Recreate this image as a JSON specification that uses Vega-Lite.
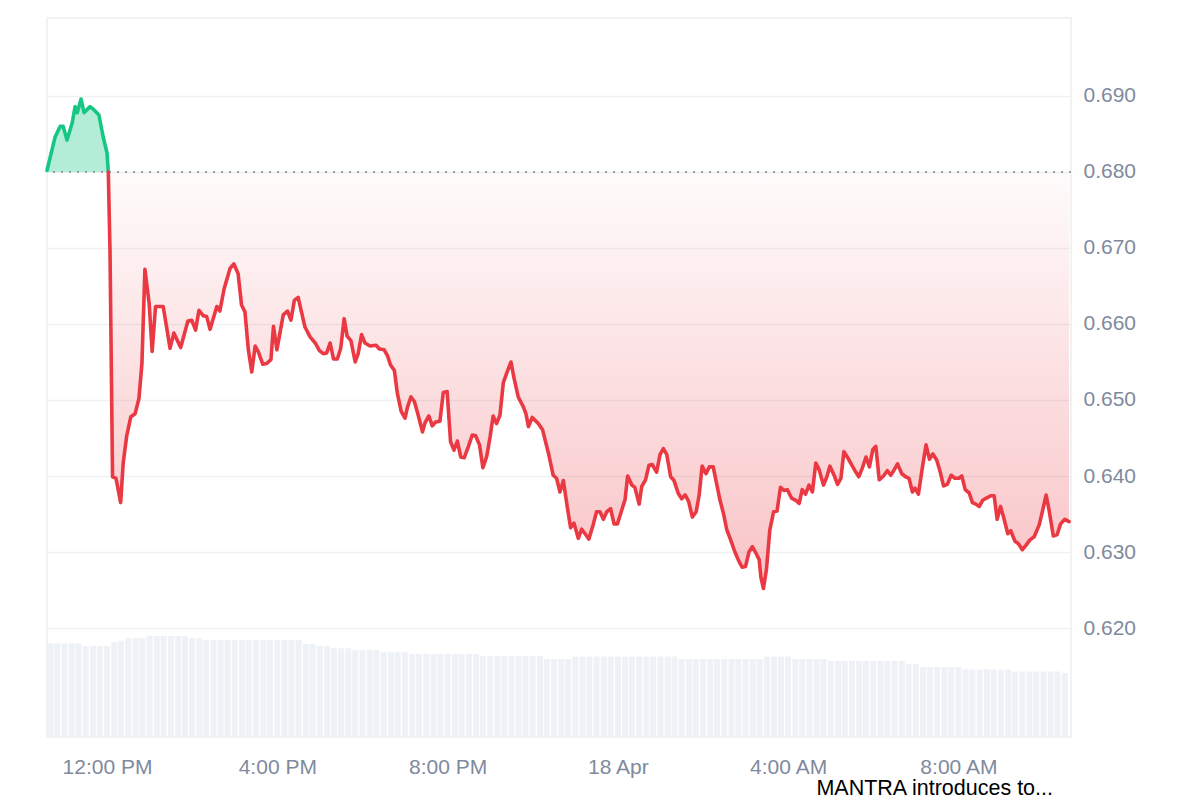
{
  "$schema": "https://vega.github.io/schema/vega-lite/v6.json",
  "width": 1024,
  "height": 719,
  "autosize": {"type": "none"},
  "padding": {"left": 47, "top": 18, "right": 129, "bottom": 63},
  "background": "#ffffff",
  "config": {
    "view": {"stroke": "#eceef1", "strokeWidth": 1.5},
    "font": "Liberation Sans"
  },
  "title": {
    "text": "MANTRA introduces to...",
    "orient": "bottom",
    "anchor": "end",
    "frame": "group",
    "fontSize": 21.5,
    "fontWeight": "normal",
    "color": "#000000",
    "font": "Liberation Sans",
    "dx": -18,
    "offset": 1
  },
  "datasets": {
    "price": [
      {"h": -1.41, "p": 0.6802, "s": "up"},
      {"h": -1.22, "p": 0.6846, "s": "up"},
      {"h": -1.10, "p": 0.6860, "s": "up"},
      {"h": -1.03, "p": 0.6860, "s": "up"},
      {"h": -0.94, "p": 0.6842, "s": "up"},
      {"h": -0.82, "p": 0.6864, "s": "up"},
      {"h": -0.75, "p": 0.6886, "s": "up"},
      {"h": -0.70, "p": 0.6878, "s": "up"},
      {"h": -0.61, "p": 0.6896, "s": "up"},
      {"h": -0.54, "p": 0.6878, "s": "up"},
      {"h": -0.40, "p": 0.6886, "s": "up"},
      {"h": -0.31, "p": 0.6882, "s": "up"},
      {"h": -0.19, "p": 0.6875, "s": "up"},
      {"h": -0.09, "p": 0.6846, "s": "up"},
      {"h": 0.00, "p": 0.6825, "s": "up"},
      {"h": 0.03, "p": 0.6800, "s": "up"},
      {"h": 0.03, "p": 0.6800, "s": "down"},
      {"h": 0.07, "p": 0.6697, "s": "down"},
      {"h": 0.13, "p": 0.6399, "s": "down"},
      {"h": 0.21, "p": 0.6397, "s": "down"},
      {"h": 0.32, "p": 0.6365, "s": "down"},
      {"h": 0.38, "p": 0.6417, "s": "down"},
      {"h": 0.46, "p": 0.6452, "s": "down"},
      {"h": 0.56, "p": 0.6478, "s": "down"},
      {"h": 0.66, "p": 0.6482, "s": "down"},
      {"h": 0.75, "p": 0.6502, "s": "down"},
      {"h": 0.82, "p": 0.6548, "s": "down"},
      {"h": 0.89, "p": 0.6672, "s": "down"},
      {"h": 0.99, "p": 0.6627, "s": "down"},
      {"h": 1.06, "p": 0.6564, "s": "down"},
      {"h": 1.14, "p": 0.6623, "s": "down"},
      {"h": 1.32, "p": 0.6623, "s": "down"},
      {"h": 1.48, "p": 0.6568, "s": "down"},
      {"h": 1.57, "p": 0.6588, "s": "down"},
      {"h": 1.73, "p": 0.6569, "s": "down"},
      {"h": 1.90, "p": 0.6604, "s": "down"},
      {"h": 1.99, "p": 0.6605, "s": "down"},
      {"h": 2.08, "p": 0.6592, "s": "down"},
      {"h": 2.16, "p": 0.6618, "s": "down"},
      {"h": 2.26, "p": 0.6611, "s": "down"},
      {"h": 2.34, "p": 0.6610, "s": "down"},
      {"h": 2.42, "p": 0.6593, "s": "down"},
      {"h": 2.58, "p": 0.6623, "s": "down"},
      {"h": 2.65, "p": 0.6617, "s": "down"},
      {"h": 2.75, "p": 0.6646, "s": "down"},
      {"h": 2.89, "p": 0.6673, "s": "down"},
      {"h": 2.98, "p": 0.6679, "s": "down"},
      {"h": 3.08, "p": 0.6666, "s": "down"},
      {"h": 3.16, "p": 0.6625, "s": "down"},
      {"h": 3.24, "p": 0.6616, "s": "down"},
      {"h": 3.32, "p": 0.6566, "s": "down"},
      {"h": 3.40, "p": 0.6537, "s": "down"},
      {"h": 3.48, "p": 0.6571, "s": "down"},
      {"h": 3.55, "p": 0.6564, "s": "down"},
      {"h": 3.66, "p": 0.6547, "s": "down"},
      {"h": 3.75, "p": 0.6548, "s": "down"},
      {"h": 3.85, "p": 0.6553, "s": "down"},
      {"h": 3.91, "p": 0.6597, "s": "down"},
      {"h": 3.99, "p": 0.6566, "s": "down"},
      {"h": 4.14, "p": 0.6612, "s": "down"},
      {"h": 4.24, "p": 0.6617, "s": "down"},
      {"h": 4.32, "p": 0.6605, "s": "down"},
      {"h": 4.40, "p": 0.6631, "s": "down"},
      {"h": 4.49, "p": 0.6635, "s": "down"},
      {"h": 4.65, "p": 0.6596, "s": "down"},
      {"h": 4.77, "p": 0.6583, "s": "down"},
      {"h": 4.89, "p": 0.6575, "s": "down"},
      {"h": 4.99, "p": 0.6565, "s": "down"},
      {"h": 5.08, "p": 0.6561, "s": "down"},
      {"h": 5.16, "p": 0.6562, "s": "down"},
      {"h": 5.24, "p": 0.6575, "s": "down"},
      {"h": 5.32, "p": 0.6554, "s": "down"},
      {"h": 5.41, "p": 0.6554, "s": "down"},
      {"h": 5.49, "p": 0.6568, "s": "down"},
      {"h": 5.57, "p": 0.6607, "s": "down"},
      {"h": 5.64, "p": 0.6584, "s": "down"},
      {"h": 5.73, "p": 0.6578, "s": "down"},
      {"h": 5.83, "p": 0.6550, "s": "down"},
      {"h": 5.90, "p": 0.6561, "s": "down"},
      {"h": 5.98, "p": 0.6586, "s": "down"},
      {"h": 6.06, "p": 0.6575, "s": "down"},
      {"h": 6.18, "p": 0.6571, "s": "down"},
      {"h": 6.32, "p": 0.6572, "s": "down"},
      {"h": 6.40, "p": 0.6567, "s": "down"},
      {"h": 6.51, "p": 0.6566, "s": "down"},
      {"h": 6.59, "p": 0.6558, "s": "down"},
      {"h": 6.66, "p": 0.6546, "s": "down"},
      {"h": 6.75, "p": 0.6539, "s": "down"},
      {"h": 6.82, "p": 0.6509, "s": "down"},
      {"h": 6.91, "p": 0.6485, "s": "down"},
      {"h": 7.00, "p": 0.6476, "s": "down"},
      {"h": 7.06, "p": 0.6491, "s": "down"},
      {"h": 7.14, "p": 0.6504, "s": "down"},
      {"h": 7.22, "p": 0.6498, "s": "down"},
      {"h": 7.31, "p": 0.6480, "s": "down"},
      {"h": 7.41, "p": 0.6458, "s": "down"},
      {"h": 7.47, "p": 0.6470, "s": "down"},
      {"h": 7.56, "p": 0.6479, "s": "down"},
      {"h": 7.64, "p": 0.6466, "s": "down"},
      {"h": 7.72, "p": 0.6471, "s": "down"},
      {"h": 7.82, "p": 0.6472, "s": "down"},
      {"h": 7.90, "p": 0.6510, "s": "down"},
      {"h": 7.99, "p": 0.6511, "s": "down"},
      {"h": 8.07, "p": 0.6445, "s": "down"},
      {"h": 8.15, "p": 0.6434, "s": "down"},
      {"h": 8.23, "p": 0.6446, "s": "down"},
      {"h": 8.31, "p": 0.6425, "s": "down"},
      {"h": 8.39, "p": 0.6424, "s": "down"},
      {"h": 8.49, "p": 0.6439, "s": "down"},
      {"h": 8.58, "p": 0.6454, "s": "down"},
      {"h": 8.66, "p": 0.6453, "s": "down"},
      {"h": 8.75, "p": 0.6441, "s": "down"},
      {"h": 8.83, "p": 0.6411, "s": "down"},
      {"h": 8.92, "p": 0.6426, "s": "down"},
      {"h": 9.00, "p": 0.6452, "s": "down"},
      {"h": 9.07, "p": 0.6479, "s": "down"},
      {"h": 9.15, "p": 0.6469, "s": "down"},
      {"h": 9.23, "p": 0.6480, "s": "down"},
      {"h": 9.31, "p": 0.6523, "s": "down"},
      {"h": 9.40, "p": 0.6537, "s": "down"},
      {"h": 9.49, "p": 0.6550, "s": "down"},
      {"h": 9.56, "p": 0.6529, "s": "down"},
      {"h": 9.66, "p": 0.6504, "s": "down"},
      {"h": 9.78, "p": 0.6491, "s": "down"},
      {"h": 9.84, "p": 0.6482, "s": "down"},
      {"h": 9.90, "p": 0.6465, "s": "down"},
      {"h": 9.99, "p": 0.6477, "s": "down"},
      {"h": 10.13, "p": 0.6469, "s": "down"},
      {"h": 10.23, "p": 0.6461, "s": "down"},
      {"h": 10.37, "p": 0.6430, "s": "down"},
      {"h": 10.48, "p": 0.6401, "s": "down"},
      {"h": 10.56, "p": 0.6397, "s": "down"},
      {"h": 10.64, "p": 0.6379, "s": "down"},
      {"h": 10.72, "p": 0.6394, "s": "down"},
      {"h": 10.81, "p": 0.6360, "s": "down"},
      {"h": 10.89, "p": 0.6332, "s": "down"},
      {"h": 10.97, "p": 0.6338, "s": "down"},
      {"h": 11.07, "p": 0.6318, "s": "down"},
      {"h": 11.15, "p": 0.6330, "s": "down"},
      {"h": 11.23, "p": 0.6324, "s": "down"},
      {"h": 11.32, "p": 0.6317, "s": "down"},
      {"h": 11.42, "p": 0.6336, "s": "down"},
      {"h": 11.50, "p": 0.6353, "s": "down"},
      {"h": 11.58, "p": 0.6353, "s": "down"},
      {"h": 11.66, "p": 0.6343, "s": "down"},
      {"h": 11.74, "p": 0.6353, "s": "down"},
      {"h": 11.83, "p": 0.6357, "s": "down"},
      {"h": 11.91, "p": 0.6337, "s": "down"},
      {"h": 11.99, "p": 0.6337, "s": "down"},
      {"h": 12.09, "p": 0.6355, "s": "down"},
      {"h": 12.17, "p": 0.6369, "s": "down"},
      {"h": 12.23, "p": 0.6400, "s": "down"},
      {"h": 12.33, "p": 0.6388, "s": "down"},
      {"h": 12.40, "p": 0.6385, "s": "down"},
      {"h": 12.50, "p": 0.6363, "s": "down"},
      {"h": 12.56, "p": 0.6386, "s": "down"},
      {"h": 12.65, "p": 0.6395, "s": "down"},
      {"h": 12.73, "p": 0.6414, "s": "down"},
      {"h": 12.81, "p": 0.6415, "s": "down"},
      {"h": 12.91, "p": 0.6405, "s": "down"},
      {"h": 12.99, "p": 0.6428, "s": "down"},
      {"h": 13.07, "p": 0.6436, "s": "down"},
      {"h": 13.15, "p": 0.6428, "s": "down"},
      {"h": 13.24, "p": 0.6399, "s": "down"},
      {"h": 13.32, "p": 0.6394, "s": "down"},
      {"h": 13.42, "p": 0.6377, "s": "down"},
      {"h": 13.50, "p": 0.6370, "s": "down"},
      {"h": 13.58, "p": 0.6375, "s": "down"},
      {"h": 13.66, "p": 0.6367, "s": "down"},
      {"h": 13.75, "p": 0.6346, "s": "down"},
      {"h": 13.84, "p": 0.6353, "s": "down"},
      {"h": 13.91, "p": 0.6375, "s": "down"},
      {"h": 13.98, "p": 0.6413, "s": "down"},
      {"h": 14.07, "p": 0.6403, "s": "down"},
      {"h": 14.15, "p": 0.6412, "s": "down"},
      {"h": 14.24, "p": 0.6412, "s": "down"},
      {"h": 14.32, "p": 0.6390, "s": "down"},
      {"h": 14.40, "p": 0.6368, "s": "down"},
      {"h": 14.48, "p": 0.6351, "s": "down"},
      {"h": 14.56, "p": 0.6329, "s": "down"},
      {"h": 14.65, "p": 0.6316, "s": "down"},
      {"h": 14.75, "p": 0.6300, "s": "down"},
      {"h": 14.85, "p": 0.6287, "s": "down"},
      {"h": 14.92, "p": 0.6280, "s": "down"},
      {"h": 15.00, "p": 0.6281, "s": "down"},
      {"h": 15.08, "p": 0.6300, "s": "down"},
      {"h": 15.16, "p": 0.6307, "s": "down"},
      {"h": 15.24, "p": 0.6299, "s": "down"},
      {"h": 15.32, "p": 0.6290, "s": "down"},
      {"h": 15.36, "p": 0.6267, "s": "down"},
      {"h": 15.42, "p": 0.6252, "s": "down"},
      {"h": 15.49, "p": 0.6277, "s": "down"},
      {"h": 15.57, "p": 0.6329, "s": "down"},
      {"h": 15.66, "p": 0.6353, "s": "down"},
      {"h": 15.74, "p": 0.6354, "s": "down"},
      {"h": 15.82, "p": 0.6385, "s": "down"},
      {"h": 15.90, "p": 0.6381, "s": "down"},
      {"h": 15.98, "p": 0.6382, "s": "down"},
      {"h": 16.08, "p": 0.6371, "s": "down"},
      {"h": 16.18, "p": 0.6368, "s": "down"},
      {"h": 16.26, "p": 0.6364, "s": "down"},
      {"h": 16.33, "p": 0.6382, "s": "down"},
      {"h": 16.41, "p": 0.6376, "s": "down"},
      {"h": 16.49, "p": 0.6388, "s": "down"},
      {"h": 16.57, "p": 0.6379, "s": "down"},
      {"h": 16.65, "p": 0.6417, "s": "down"},
      {"h": 16.73, "p": 0.6408, "s": "down"},
      {"h": 16.83, "p": 0.6388, "s": "down"},
      {"h": 16.91, "p": 0.6399, "s": "down"},
      {"h": 16.98, "p": 0.6413, "s": "down"},
      {"h": 17.08, "p": 0.6401, "s": "down"},
      {"h": 17.16, "p": 0.6389, "s": "down"},
      {"h": 17.24, "p": 0.6397, "s": "down"},
      {"h": 17.31, "p": 0.6432, "s": "down"},
      {"h": 17.39, "p": 0.6425, "s": "down"},
      {"h": 17.49, "p": 0.6415, "s": "down"},
      {"h": 17.57, "p": 0.6407, "s": "down"},
      {"h": 17.66, "p": 0.6399, "s": "down"},
      {"h": 17.74, "p": 0.6410, "s": "down"},
      {"h": 17.83, "p": 0.6425, "s": "down"},
      {"h": 17.91, "p": 0.6412, "s": "down"},
      {"h": 17.99, "p": 0.6435, "s": "down"},
      {"h": 18.06, "p": 0.6439, "s": "down"},
      {"h": 18.14, "p": 0.6395, "s": "down"},
      {"h": 18.24, "p": 0.6400, "s": "down"},
      {"h": 18.33, "p": 0.6407, "s": "down"},
      {"h": 18.41, "p": 0.6401, "s": "down"},
      {"h": 18.49, "p": 0.6408, "s": "down"},
      {"h": 18.57, "p": 0.6416, "s": "down"},
      {"h": 18.67, "p": 0.6403, "s": "down"},
      {"h": 18.76, "p": 0.6399, "s": "down"},
      {"h": 18.84, "p": 0.6397, "s": "down"},
      {"h": 18.92, "p": 0.6379, "s": "down"},
      {"h": 18.98, "p": 0.6384, "s": "down"},
      {"h": 19.06, "p": 0.6376, "s": "down"},
      {"h": 19.15, "p": 0.6410, "s": "down"},
      {"h": 19.24, "p": 0.6441, "s": "down"},
      {"h": 19.32, "p": 0.6422, "s": "down"},
      {"h": 19.40, "p": 0.6429, "s": "down"},
      {"h": 19.49, "p": 0.6421, "s": "down"},
      {"h": 19.57, "p": 0.6406, "s": "down"},
      {"h": 19.65, "p": 0.6387, "s": "down"},
      {"h": 19.74, "p": 0.6389, "s": "down"},
      {"h": 19.83, "p": 0.6401, "s": "down"},
      {"h": 19.92, "p": 0.6397, "s": "down"},
      {"h": 20.01, "p": 0.6397, "s": "down"},
      {"h": 20.08, "p": 0.6400, "s": "down"},
      {"h": 20.16, "p": 0.6382, "s": "down"},
      {"h": 20.25, "p": 0.6378, "s": "down"},
      {"h": 20.33, "p": 0.6365, "s": "down"},
      {"h": 20.41, "p": 0.6363, "s": "down"},
      {"h": 20.49, "p": 0.6360, "s": "down"},
      {"h": 20.57, "p": 0.6368, "s": "down"},
      {"h": 20.66, "p": 0.6371, "s": "down"},
      {"h": 20.76, "p": 0.6374, "s": "down"},
      {"h": 20.84, "p": 0.6374, "s": "down"},
      {"h": 20.91, "p": 0.6343, "s": "down"},
      {"h": 20.99, "p": 0.6360, "s": "down"},
      {"h": 21.07, "p": 0.6344, "s": "down"},
      {"h": 21.16, "p": 0.6324, "s": "down"},
      {"h": 21.23, "p": 0.6328, "s": "down"},
      {"h": 21.33, "p": 0.6314, "s": "down"},
      {"h": 21.41, "p": 0.6311, "s": "down"},
      {"h": 21.50, "p": 0.6303, "s": "down"},
      {"h": 21.59, "p": 0.6309, "s": "down"},
      {"h": 21.68, "p": 0.6316, "s": "down"},
      {"h": 21.78, "p": 0.6320, "s": "down"},
      {"h": 21.90, "p": 0.6336, "s": "down"},
      {"h": 21.98, "p": 0.6355, "s": "down"},
      {"h": 22.06, "p": 0.6375, "s": "down"},
      {"h": 22.13, "p": 0.6355, "s": "down"},
      {"h": 22.23, "p": 0.6321, "s": "down"},
      {"h": 22.32, "p": 0.6323, "s": "down"},
      {"h": 22.40, "p": 0.6337, "s": "down"},
      {"h": 22.50, "p": 0.6343, "s": "down"},
      {"h": 22.60, "p": 0.6340, "s": "down"}
    ],
    "volume": [
      {"h": -1.33, "v": 93.5}, {"h": -1.17, "v": 93.5}, {"h": -1.00, "v": 93.5}, {"h": -0.83, "v": 93.5},
      {"h": -0.67, "v": 93.5}, {"h": -0.50, "v": 91}, {"h": -0.33, "v": 91}, {"h": -0.17, "v": 91},
      {"h": 0.00, "v": 91}, {"h": 0.17, "v": 94.7}, {"h": 0.33, "v": 96.3}, {"h": 0.50, "v": 98.7},
      {"h": 0.67, "v": 98.7}, {"h": 0.83, "v": 98.7}, {"h": 1.00, "v": 101}, {"h": 1.17, "v": 101},
      {"h": 1.33, "v": 101}, {"h": 1.50, "v": 101}, {"h": 1.67, "v": 101}, {"h": 1.83, "v": 101},
      {"h": 2.00, "v": 98.7}, {"h": 2.17, "v": 98.7}, {"h": 2.33, "v": 97}, {"h": 2.50, "v": 97},
      {"h": 2.67, "v": 97}, {"h": 2.83, "v": 97}, {"h": 3.00, "v": 97}, {"h": 3.17, "v": 97},
      {"h": 3.33, "v": 97}, {"h": 3.50, "v": 97}, {"h": 3.67, "v": 97}, {"h": 3.83, "v": 97},
      {"h": 4.00, "v": 97}, {"h": 4.17, "v": 97}, {"h": 4.33, "v": 97}, {"h": 4.50, "v": 97},
      {"h": 4.67, "v": 93}, {"h": 4.83, "v": 93}, {"h": 5.00, "v": 91}, {"h": 5.17, "v": 91},
      {"h": 5.33, "v": 88.7}, {"h": 5.50, "v": 88.7}, {"h": 5.67, "v": 88.7}, {"h": 5.83, "v": 87},
      {"h": 6.00, "v": 87}, {"h": 6.17, "v": 87}, {"h": 6.33, "v": 87}, {"h": 6.50, "v": 84.7},
      {"h": 6.67, "v": 84.7}, {"h": 6.83, "v": 84.7}, {"h": 7.00, "v": 84.7}, {"h": 7.17, "v": 83},
      {"h": 7.33, "v": 83}, {"h": 7.50, "v": 83}, {"h": 7.67, "v": 83}, {"h": 7.83, "v": 83},
      {"h": 8.00, "v": 83}, {"h": 8.17, "v": 83}, {"h": 8.33, "v": 83}, {"h": 8.50, "v": 83},
      {"h": 8.67, "v": 83}, {"h": 8.83, "v": 81}, {"h": 9.00, "v": 81}, {"h": 9.17, "v": 81},
      {"h": 9.33, "v": 81}, {"h": 9.50, "v": 81}, {"h": 9.67, "v": 81}, {"h": 9.83, "v": 81},
      {"h": 10.00, "v": 81}, {"h": 10.17, "v": 81}, {"h": 10.33, "v": 78}, {"h": 10.50, "v": 78},
      {"h": 10.67, "v": 78}, {"h": 10.83, "v": 78}, {"h": 11.00, "v": 80.5}, {"h": 11.17, "v": 80.5},
      {"h": 11.33, "v": 80.5}, {"h": 11.50, "v": 80.5}, {"h": 11.67, "v": 80.5}, {"h": 11.83, "v": 80.5},
      {"h": 12.00, "v": 80.5}, {"h": 12.17, "v": 80.5}, {"h": 12.33, "v": 80.5}, {"h": 12.50, "v": 80.5},
      {"h": 12.67, "v": 80.5}, {"h": 12.83, "v": 80.5}, {"h": 13.00, "v": 80.5}, {"h": 13.17, "v": 80.5},
      {"h": 13.33, "v": 80.5}, {"h": 13.50, "v": 78}, {"h": 13.67, "v": 78}, {"h": 13.83, "v": 78},
      {"h": 14.00, "v": 78}, {"h": 14.17, "v": 78}, {"h": 14.33, "v": 78}, {"h": 14.50, "v": 78},
      {"h": 14.67, "v": 78}, {"h": 14.83, "v": 78}, {"h": 15.00, "v": 78}, {"h": 15.17, "v": 78},
      {"h": 15.33, "v": 78}, {"h": 15.50, "v": 80.5}, {"h": 15.67, "v": 80.5}, {"h": 15.83, "v": 80.5},
      {"h": 16.00, "v": 80.5}, {"h": 16.17, "v": 78}, {"h": 16.33, "v": 78}, {"h": 16.50, "v": 78},
      {"h": 16.67, "v": 78}, {"h": 16.83, "v": 78}, {"h": 17.00, "v": 76}, {"h": 17.17, "v": 76},
      {"h": 17.33, "v": 76}, {"h": 17.50, "v": 76}, {"h": 17.67, "v": 76}, {"h": 17.83, "v": 76},
      {"h": 18.00, "v": 76}, {"h": 18.17, "v": 76}, {"h": 18.33, "v": 76}, {"h": 18.50, "v": 76},
      {"h": 18.67, "v": 76}, {"h": 18.83, "v": 73}, {"h": 19.00, "v": 73}, {"h": 19.17, "v": 70},
      {"h": 19.33, "v": 70}, {"h": 19.50, "v": 70}, {"h": 19.67, "v": 70}, {"h": 19.83, "v": 70},
      {"h": 20.00, "v": 70}, {"h": 20.17, "v": 67.5}, {"h": 20.33, "v": 67.5}, {"h": 20.50, "v": 67.5},
      {"h": 20.67, "v": 67.5}, {"h": 20.83, "v": 67.5}, {"h": 21.00, "v": 67.5}, {"h": 21.17, "v": 67.5},
      {"h": 21.33, "v": 65.5}, {"h": 21.50, "v": 65.5}, {"h": 21.67, "v": 65.5}, {"h": 21.83, "v": 65.5},
      {"h": 22.00, "v": 65.5}, {"h": 22.17, "v": 65.5}, {"h": 22.33, "v": 65.5}, {"h": 22.50, "v": 64}
    ]
  },
  "layer": [
    {
      "data": {"name": "volume"},
      "mark": {"type": "bar", "width": 6, "color": "#eef1f5"},
      "encoding": {
        "x": {
          "field": "h", "type": "quantitative",
          "scale": {"domain": [-1.41, 22.645], "nice": false, "zero": false, "padding": 0},
          "axis": {
            "values": [0, 4, 8, 12, 16, 20],
            "labelExpr": "datum.value == 0 ? '12:00 PM' : datum.value == 4 ? '4:00 PM' : datum.value == 8 ? '8:00 PM' : datum.value == 12 ? '18 Apr' : datum.value == 16 ? '4:00 AM' : '8:00 AM'",
            "grid": false, "ticks": false, "domain": false,
            "labelFontSize": 21, "labelColor": "#808a9d", "labelPadding": 19,
            "labelFont": "Liberation Sans", "title": null
          }
        },
        "y": {
          "field": "v", "type": "quantitative",
          "scale": {"domain": [0, 719], "nice": false, "padding": 0},
          "axis": null
        }
      }
    },
    {
      "data": {"name": "price"},
      "encoding": {
        "x": {"field": "h", "type": "quantitative", "scale": {"domain": [-1.41, 22.645], "nice": false, "zero": false, "padding": 0}},
        "y": {
          "field": "p", "type": "quantitative",
          "scale": {"domain": [0.60566, 0.70026], "nice": false, "zero": false},
          "axis": {
            "orient": "right",
            "values": [0.62, 0.63, 0.64, 0.65, 0.66, 0.67, 0.68, 0.69],
            "format": ".3f",
            "grid": true, "gridColor": "#eff1f4", "gridWidth": 1.5,
            "ticks": false, "domain": false,
            "labelFontSize": 21, "labelColor": "#808a9d", "labelPadding": 12,
            "labelFont": "Liberation Sans", "title": null
          }
        }
      },
      "layer": [
        {
          "transform": [{"filter": "datum.s == 'down'"}],
          "mark": {
            "type": "area",
            "color": {
              "gradient": "linear", "x1": 0, "y1": 0, "x2": 0, "y2": 1,
              "stops": [
                {"offset": 0, "color": "rgba(234,57,67,0.02)"},
                {"offset": 1, "color": "rgba(234,57,67,0.3)"}
              ]
            }
          },
          "encoding": {"y2": {"datum": 0.68}}
        },
        {
          "transform": [{"filter": "datum.s == 'up'"}],
          "mark": {"type": "area", "color": "#16c784", "opacity": 0.32},
          "encoding": {"y2": {"datum": 0.68}}
        },
        {
          "mark": {"type": "rule", "color": "#999da6", "strokeWidth": 2, "strokeDash": [2, 6]},
          "encoding": {"y": {"datum": 0.68}, "x": null}
        },
        {
          "mark": {"type": "line", "strokeWidth": 3.6, "strokeJoin": "round", "strokeCap": "round"},
          "encoding": {
            "color": {
              "field": "s", "type": "nominal",
              "scale": {"domain": ["up", "down"], "range": ["#16c784", "#ea3943"]},
              "legend": null
            }
          }
        }
      ]
    }
  ],
  "resolve": {"scale": {"y": "independent"}}
}
